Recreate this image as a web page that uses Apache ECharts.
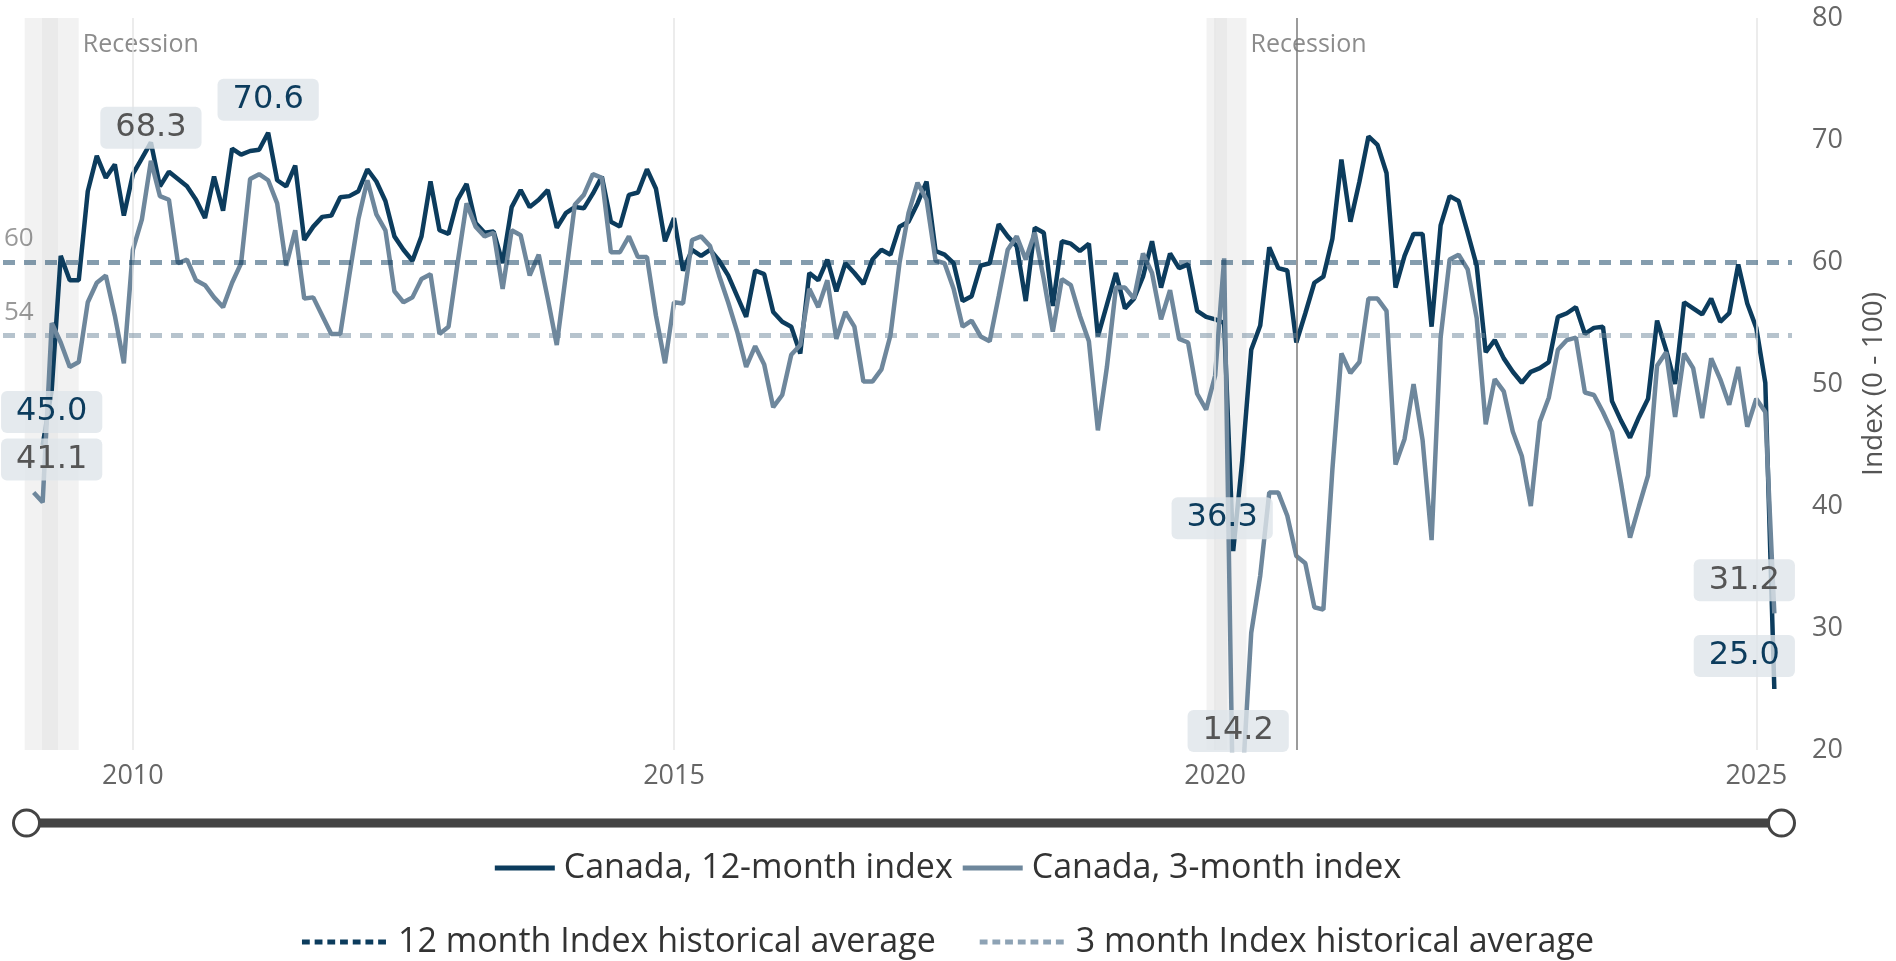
<!DOCTYPE html>
<html lang="en">
<head>
<meta charset="utf-8">
<title>Canada index</title>
<style>
    body {
        margin: 0;
        background: #fff;
    }

    #chart {
        width: 1896px;
        height: 961px;
    }
</style>
</head>
<body>
<div id="chart"></div>
<script src="https://cdn.jsdelivr.net/npm/echarts@6/dist/echarts.min.js"></script>
<script>
// monthly values, first month Feb 2009, last Mar 2025
var startYear = 2009;
var startMonth = 2;

var index12 = [
    null, 45.0, 49.5, 60.5, 58.5, 58.5, 65.8, 68.7, 66.9, 68.0, 63.8,
    67.2, 68.5, 69.8, 66.2, 67.4, 66.8, 66.2, 65.1, 63.6, 67.0, 64.2, 69.3,
    68.8, 69.1, 69.2, 70.6, 66.7, 66.2, 67.9, 61.8, 62.9, 63.7, 63.8, 65.3,
    65.4, 65.8, 67.6, 66.6, 65.0, 62.1, 61.0, 60.1, 62.1, 66.6, 62.6, 62.3,
    65.1, 66.4, 63.2, 62.4, 62.5, 59.9, 64.5, 65.9, 64.5, 65.1, 65.9, 62.8,
    64.0, 64.5, 64.4, 65.6, 67.0, 63.3, 62.9, 65.5, 65.7, 67.6, 66.0, 61.7,
    63.6, 59.3, 61.0, 60.5, 61.0, 60.1, 58.9, 57.2, 55.5, 59.3, 59.0, 55.9,
    55.1, 54.7, 52.5, 59.1, 58.5, 60.2, 57.6, 59.9, 59.1, 58.2, 60.2, 61.0,
    60.6, 62.9, 63.3, 64.8, 66.6, 60.9, 60.6, 59.9, 56.8, 57.2, 59.7, 59.9,
    63.1, 62.1, 61.3, 56.8, 62.8, 62.4, 56.4, 61.7, 61.5, 60.9, 61.5, 53.9,
    56.5, 59.1, 56.2, 57.0, 58.8, 61.7, 57.9, 60.7, 59.5, 59.8, 56.0, 55.5,
    55.3, 55.0, 36.3, 43.7, 52.8, 54.8, 61.2, 59.5, 59.3, 53.4, 55.8, 58.3,
    58.8, 61.9, 68.4, 63.3, 66.6, 70.3, 69.6, 67.3, 57.9, 60.5, 62.3, 62.3,
    54.7, 63.0, 65.4, 65.0, 62.4, 59.7, 52.6, 53.6, 52.1, 51.0, 50.1, 51.0,
    51.3, 51.8, 55.5, 55.8, 56.3, 54.1, 54.6, 54.7, 48.6, 47.0, 45.6, 47.3,
    48.8, 55.2, 52.8, 50.0, 56.7, 56.2, 55.7, 57.0, 55.1, 55.8, 59.8, 56.6,
    54.6, 50.1, 25.0
];

var index3 = [
    41.1, 40.3, 55.0, 53.4, 51.4, 51.8, 56.7, 58.3, 58.9, 55.6, 51.7,
    61.0, 63.5, 68.3, 65.4, 65.1, 59.9, 60.2, 58.5, 58.1, 57.1, 56.3, 58.3,
    59.9, 66.8, 67.2, 66.7, 64.8, 59.7, 62.6, 57.0, 57.1, 55.6, 54.1, 54.1,
    58.9, 63.5, 66.7, 63.9, 62.6, 57.6, 56.7, 57.1, 58.6, 59.0, 54.1, 54.7,
    59.9, 64.8, 62.9, 62.1, 62.4, 57.8, 62.6, 62.2, 58.9, 60.6, 57.0, 53.2,
    58.9, 64.7, 65.5, 67.2, 66.9, 60.8, 60.8, 62.1, 60.4, 60.4, 55.6, 51.7,
    56.7, 56.6, 61.8, 62.1, 61.3, 58.9, 56.7, 54.3, 51.4, 53.1, 51.6, 48.1,
    49.1, 52.4, 53.2, 57.8, 56.3, 58.5, 53.7, 55.9, 54.7, 50.2, 50.2, 51.2,
    54.0, 59.9, 64.0, 66.5, 65.1, 60.1, 59.9, 57.8, 54.7, 55.2, 53.9, 53.5,
    57.2, 61.0, 62.1, 60.2, 62.4, 58.6, 54.3, 58.6, 58.1, 55.6, 53.5, 46.2,
    51.4, 57.9, 57.9, 57.0, 60.7, 59.1, 55.3, 57.7, 53.7, 53.4, 49.2, 47.9,
    50.7, 60.3, 14.2, 17.0, 29.6, 34.3, 41.1, 41.1, 39.2, 35.9, 35.3, 31.7,
    31.5, 43.0, 52.5, 50.9, 51.8, 57.0, 57.0, 56.0, 43.4, 45.5, 50.0, 45.4,
    37.2, 53.8, 60.2, 60.6, 59.4, 55.4, 46.7, 50.4, 49.4, 46.1, 44.1, 40.0,
    46.9, 48.9, 52.8, 53.6, 53.8, 49.3, 49.1, 47.7, 46.1, 41.9, 37.4, 40.0,
    42.5, 51.5, 52.6, 47.3, 52.5, 51.3, 47.2, 52.1, 50.4, 48.3, 51.4, 46.5,
    48.8, 47.7, 31.2
];

var avg12 = 60;
var avg3 = 54;

var yearTicks = [2010, 2015, 2020, 2025];
var recessions = [[2009.0, 2009.5], [2019.92, 2020.29]];
var recessionCores = [[2009.16, 2009.31], [2020.0, 2020.11]];
var markerLine = 2020.75;

var names = {
    i12: 'Canada, 12-month index',
    i3: 'Canada, 3-month index',
    a12: '12 month Index historical average',
    a3: '3 month Index historical average'
};

var navy = '#0c3c5d';
var slate = '#6e879c';
var yMin = 20, yMax = 80;
var xMin = 2008.8, xMax = 2025.33;

// dashed legend symbol
var dashIcon = 'path://M0,0h8v5h-8z M13,0h8v5h-8z M26,0h8v5h-8z M39,0h8v5h-8z M52,0h8v5h-8z M65,0h8v5h-8z M78,0h8v5h-8z';

function toX(i) {
    return startYear + (startMonth - 1 + i) / 12;
}

function pairs(arr) {
    return arr.map(function (v, i) { return [toX(i), v]; });
}

// first, max, min (before the last month) and last value, each with a label offset
function extremes(arr, offsets) {
    var first = -1, maxI = -1, minI = -1;
    var last = arr.length - 1;
    arr.forEach(function (v, i) {
        if (v == null) return;
        if (first < 0) first = i;
        if (maxI < 0 || v > arr[maxI]) maxI = i;
        if (i < last && (minI < 0 || v < arr[minI])) minI = i;
    });
    return [first, maxI, minI, last].map(function (i, n) {
        return {
            coord: [toX(i), Math.max(arr[i], yMin)],
            value: arr[i],
            label: { offset: offsets[n] }
        };
    });
}

function valueLabel(color) {
    return {
        show: true,
        position: 'top',
        distance: 12,
        formatter: function (p) { return p.value.toFixed(1); },
        fontFamily: 'DejaVu Sans',
        fontSize: 32,
        lineHeight: 36,
        color: color,
        backgroundColor: 'rgba(222,229,234,0.8)',
        borderRadius: 6,
        padding: [3, 15]
    };
}

function avgLine(value, color) {
    return {
        silent: true,
        symbol: 'none',
        lineStyle: { color: color, width: 5, type: [12, 9], opacity: 0.5 },
        label: {
            show: true,
            position: 'insideStartTop',
            distance: [1, 10],
            formatter: '{c}',
            fontFamily: 'Open Sans',
            fontSize: 26,
            color: '#333'
        },
        data: [{ yAxis: value }]
    };
}

var bandData = recessions.map(function (r) {
    return [{
        xAxis: r[0], yAxis: 81.07,
        label: {
            show: true,
            formatter: 'Recession',
            position: ['100%', 14],
            offset: [4, 0],
            fontFamily: 'Open Sans',
            fontSize: 25,
            color: '#8c8c8c'
        }
    }, { xAxis: r[1], yAxis: 19.0 }];
}).concat(recessionCores.map(function (r) {
    return [{ xAxis: r[0], yAxis: 81.07, itemStyle: { color: 'rgba(0,0,0,0.035)' } },
            { xAxis: r[1], yAxis: 19.0 }];
}));

var gridLines = yearTicks.map(function (y) {
    return { xAxis: y, lineStyle: { color: '#e6e6e6', width: 1.5, type: 'solid' } };
});
gridLines.push({ xAxis: markerLine, lineStyle: { color: '#7a7a7a', width: 1.5, type: 'solid' } });

var chart = echarts.init(document.getElementById('chart'));

chart.setOption({
    animation: false,
    textStyle: { fontFamily: 'Open Sans' },
    grid: { left: 3, right: 95, top: 18, bottom: 211 },
    xAxis: {
        type: 'value',
        min: xMin,
        max: xMax,
        axisLine: { show: false },
        axisTick: { show: false },
        splitLine: { show: false },
        axisLabel: {
            customValues: yearTicks,
            formatter: function (v) { return String(Math.round(v)); },
            fontSize: 27,
            color: '#666',
            margin: 13
        }
    },
    yAxis: {
        type: 'value',
        position: 'right',
        min: yMin,
        max: yMax,
        interval: 10,
        axisLine: { show: false },
        axisTick: { show: false },
        splitLine: { show: false },
        axisLabel: { fontSize: 27, color: '#666', margin: 20 },
        name: 'Index (0 - 100)',
        nameLocation: 'middle',
        nameRotate: 90,
        nameGap: 68,
        nameTextStyle: { fontSize: 28, color: '#555' }
    },
    dataZoom: [{
        type: 'slider',
        xAxisIndex: 0,
        start: 0,
        end: 100,
        filterMode: 'none',
        left: 23,
        right: 116,
        top: 818,
        height: 10,
        showDetail: false,
        showDataShadow: false,
        brushSelect: false,
        moveHandleSize: 0,
        backgroundColor: '#9a9a9a',
        borderColor: '#9a9a9a',
        fillerColor: '#444',
        handleIcon: 'circle',
        handleSize: '260%',
        handleStyle: { color: '#fff', borderColor: '#444', borderWidth: 3 }
    }],
    legend: [{
        data: [names.i12, names.i3],
        left: 'center',
        top: 846,
        icon: 'rect',
        itemWidth: 60,
        itemHeight: 5,
        itemGap: 10,
        textStyle: { fontSize: 34, color: '#333', padding: [0, 0, 0, 4] }
    }, {
        data: [names.a12, names.a3],
        left: 'center',
        top: 920,
        icon: dashIcon,
        itemWidth: 84,
        itemHeight: 5,
        itemGap: 44,
        textStyle: { fontSize: 34, color: '#333', padding: [0, 0, 0, 7] }
    }],
    series: [{
        name: 'guides',
        type: 'line',
        data: [],
        silent: true,
        clip: false,
        z: 1,
        markArea: {
            silent: true,
            itemStyle: { color: 'rgba(0,0,0,0.05)' },
            data: bandData
        },
        markLine: {
            silent: true,
            symbol: 'none',
            label: { show: false },
            data: gridLines
        }
    }, {
        name: names.a12,
        type: 'line',
        data: [],
        symbol: 'none',
        color: navy,
        z: 2,
        markLine: avgLine(avg12, navy)
    }, {
        name: names.a3,
        type: 'line',
        data: [],
        symbol: 'none',
        color: '#8ea3b5',
        z: 2,
        markLine: avgLine(avg3, slate)
    }, {
        name: names.i12,
        type: 'line',
        data: pairs(index12),
        symbol: 'none',
        color: navy,
        lineStyle: { color: navy, width: 4.5 },
        z: 3,
        markPoint: {
            symbol: 'circle',
            symbolSize: 0,
            label: valueLabel(navy),
            data: extremes(index12, [[9, 0], [0, 0], [-11, 0], [-30, 0]])
        }
    }, {
        name: names.i3,
        type: 'line',
        data: pairs(index3),
        symbol: 'none',
        color: slate,
        lineStyle: { color: slate, width: 4.5 },
        z: 4,
        markPoint: {
            symbol: 'circle',
            symbolSize: 0,
            label: valueLabel('#555'),
            data: extremes(index3, [[18, 0], [0, 0], [5, 14], [-30, 0]])
        }
    }]
});
</script>
</body>
</html>
